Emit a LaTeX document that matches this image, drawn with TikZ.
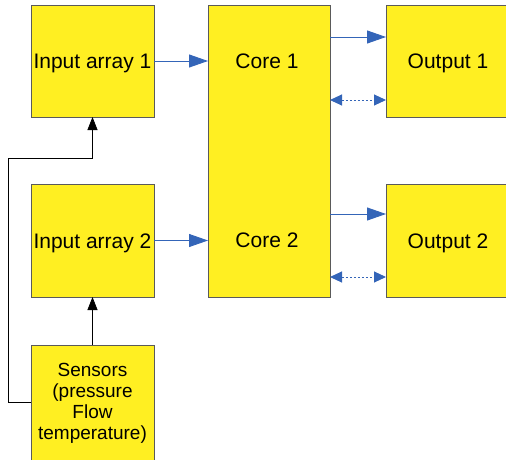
\documentclass[tikz,border=0pt]{standalone}
\usepackage{fontspec}
\setmainfont{Liberation Sans}
\usetikzlibrary{arrows.meta}
\definecolor{boxyellow}{RGB}{255,239,34}
\definecolor{boxline}{RGB}{90,90,90}
\definecolor{linkblue}{RGB}{52,101,184}
\tikzset{
    block/.style={draw=boxline, fill=boxyellow, line width=0.9pt, inner sep=0pt, outer sep=0pt, align=center,
        font=\fontsize{21}{21}\selectfont, text height=16pt, text depth=0pt},
    bluearrow/.style={-{Triangle[length=19pt, width=13pt]}, linkblue, line width=0.9pt},
    dotarrow/.style={{Triangle[length=12pt, width=11pt]}-{Triangle[length=12pt, width=11pt]}, linkblue, line width=1pt, dash pattern=on 2pt off 2pt},
    blackarrow/.style={-{Triangle[length=13pt, width=10pt]}, black, line width=0.8pt}
}
\begin{document}
\begin{tikzpicture}[x=1pt, y=1pt]
    \useasboundingbox (0, 0) rectangle (506, 459);
    \clip (0, 0) rectangle (506, 459);
    % blocks
    \node[block, minimum width=123pt, minimum height=112pt] (in1) at (92.5, 398) {Input array 1};
    \node[block, minimum width=123pt, minimum height=113pt] (in2) at (92.5, 218.5) {Input array 2};
    \node[block, minimum width=122pt, minimum height=292pt] (core) at (269, 308) {};
    \node[font=\fontsize{21}{21}\selectfont, anchor=base] (core1) at (267, 390) {Core 1};
    \node[font=\fontsize{21}{21}\selectfont, anchor=base] (core2) at (267, 212) {Core 2};
    \node[block, minimum width=124pt, minimum height=112pt] (out1) at (448, 398) {Output 1};
    \node[block, minimum width=124pt, minimum height=113pt] (out2) at (448, 218.5) {Output 2};
    \node[block, minimum width=123pt, minimum height=116pt, font=\fontsize{19}{21}\selectfont, text height=, text depth=] (sens) at (92.5, 56) {Sensors\\(pressure\\Flow\\temperature)};
    % links
    \draw[bluearrow] (in1.east) -- (in1.east -| core.west);
    \draw[bluearrow] (in2.east) -- (in2.east -| core.west);
    \draw[bluearrow] ([yshift=24pt]out1.west -| core.east) -- ([yshift=24pt]out1.west);
    \draw[dotarrow] ([yshift=-39pt]out1.west -| core.east) -- ([yshift=-39pt]out1.west);
    \draw[bluearrow] ([yshift=26.5pt]out2.west -| core.east) -- ([yshift=26.5pt]out2.west);
    \draw[dotarrow] ([yshift=-36.5pt]out2.west -| core.east) -- ([yshift=-36.5pt]out2.west);
    \draw[blackarrow] (sens.north) -- (in2.south);
    \coordinate (bend) at (8, 301);
    \draw[blackarrow] ([yshift=1pt]sens.west) -| (bend) -| (in1.south);
\end{tikzpicture}
\end{document}
